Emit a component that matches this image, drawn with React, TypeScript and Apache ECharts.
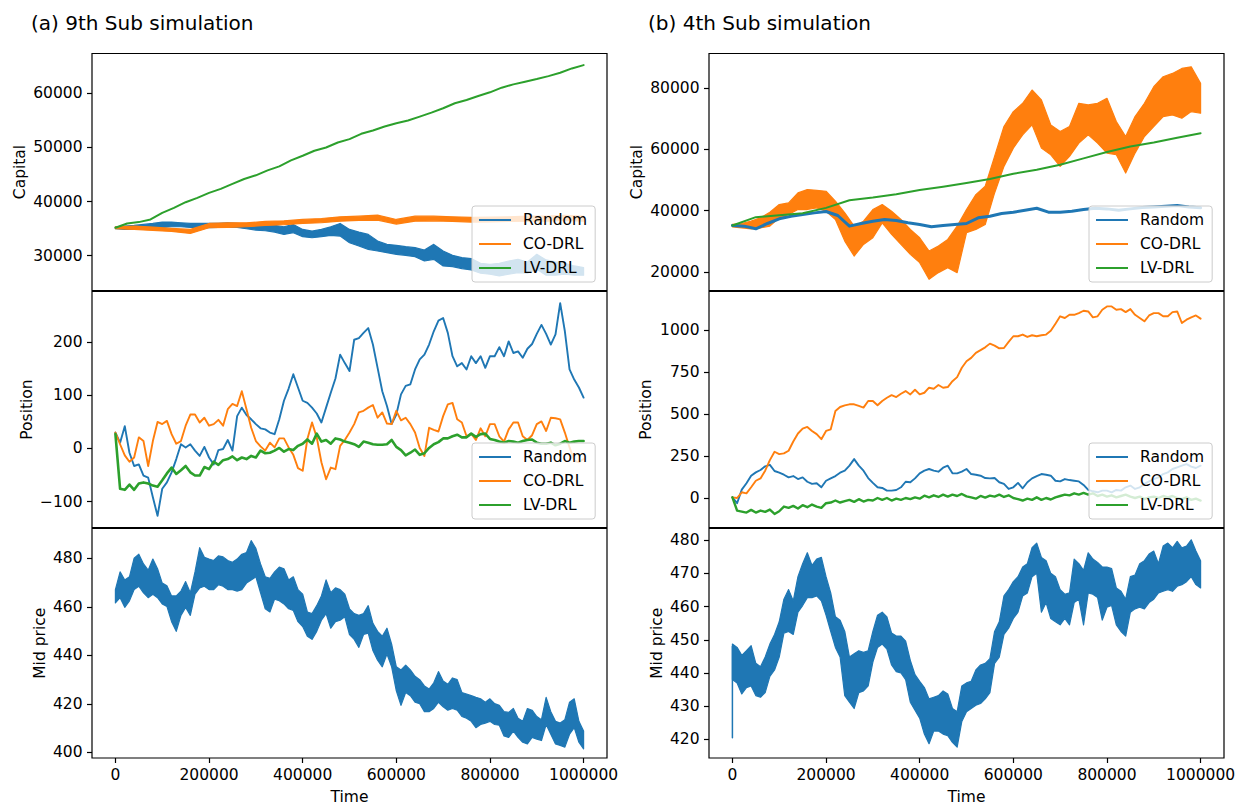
import React, { useEffect, useRef } from "react";
import * as echarts from "echarts";

const BLUE = "#1f77b4";
const ORANGE = "#ff7f0e";
const GREEN = "#2ca02c";
const FONT = "DejaVu Sans";

const LEGEND_NAMES = ["Random", "CO-DRL", "LV-DRL"];
const TITLES = ["(a) 9th Sub simulation", "(b) 4th Sub simulation"];
const X_TICKS = [0, 200000, 400000, 600000, 800000, 1000000];
const A_CAP_TICKS = [30000, 40000, 50000, 60000];
const A_POS_TICKS = [-100, 0, 100, 200];
const A_MID_TICKS = [400, 420, 440, 460, 480];
const B_CAP_TICKS = [20000, 40000, 60000, 80000];
const B_POS_TICKS = [0, 250, 500, 750, 1000];
const B_MID_TICKS = [420, 430, 440, 450, 460, 470, 480];

// ---- (a) Capital ----
const aCapRandStep = 20000;
const aCapRandHi = [35330,35450,35570,35760,35940,36190,36190,36070,35940,35940,35940,35940,36070,35940,35820,35700,35570,35570,35330,35760,34840,34530,34840,35330,35940,34840,34350,33920,32690,32070,31890,31640,31460,31030,32070,30850,30050,29620,29440,28580,28390,28580,29000,29310,28820,30230,29190,28820,28580,28080,27780];
const aCapRandLo = [34960,34840,34840,34960,35020,35210,35330,35330,35210,35210,35150,35210,35270,35210,34960,34710,34590,34350,33920,34220,33490,33300,33490,33730,33610,32380,31770,31150,30850,30540,30230,30050,29800,29000,29310,28080,27960,27590,27350,26730,26550,26240,26550,26860,26730,27470,26360,26360,26550,26360,26360];
const aCapCoStep = 40000;
const aCapCoHi = [35330,35450,35270,35020,34840,35940,36070,36070,36310,36430,36680,36860,37170,37290,37480,36680,37290,37290,37170,37050,37110,37170,37290,37290,37420,37290];
const aCapCoLo = [34960,34840,34650,34470,34100,35150,35210,35330,35570,35700,35940,36070,36370,36500,36560,35820,36370,36430,36310,36190,36250,36310,36370,36370,36500,36370];
const aCapLvStep = 25000;
const aCapLv = [35145,35940,36190,36680,37910,38830,39870,40670,41590,42330,43250,44170,44850,45770,46500,47610,48470,49390,50000,50920,51540,52520,53140,53870,54490,54980,55710,56450,57250,58170,58780,59520,60200,61060,61670,62160,62650,63200,63820,64620,65230];

// ---- (a) Position ----
const aPosStep = 10000;
const aPosRand = [30,11,42,-8,-33,-30,-51,-55,-92,-127,-76,-64,-45,-20,8,2,8,-4,-14,3,-17,-30,-3,-1,16,-4,61,77,63,55,46,38,36,30,27,55,90,113,140,115,90,86,77,66,49,77,105,132,177,161,146,205,208,218,227,196,152,108,80,46,64,102,118,121,149,168,177,196,221,241,246,218,174,155,161,149,174,161,174,152,174,174,191,174,202,180,183,171,188,197,216,233,216,196,215,274,221,149,130,115,96];
const aPosCo = [30,8,-13,-25,-17,21,14,-33,14,50,46,52,27,9,14,43,64,64,49,58,43,46,54,43,74,84,80,108,74,39,14,4,-4,11,2,19,19,2,-12,-37,-42,18,49,21,-26,-58,-36,-39,5,16,30,46,68,71,77,82,58,68,47,46,71,53,58,46,30,1,-14,39,35,32,61,83,86,55,49,23,28,16,38,23,46,46,23,13,36,49,49,23,16,25,46,51,33,58,57,55,30,2,-23,-26,-20];
const aPosLv = [27,-76,-78,-68,-78,-66,-64,-66,-70,-72,-60,-47,-36,-48,-41,-33,-45,-51,-51,-35,-39,-25,-31,-22,-20,-15,-22,-17,-20,-14,-17,-4,-9,-8,-4,1,-6,-1,-3,5,9,17,9,28,13,16,9,19,17,13,11,8,3,13,11,8,7,7,8,16,3,-3,-13,-8,-2,-12,-9,1,8,12,19,19,23,26,21,21,28,22,27,28,18,16,13,11,14,13,11,14,16,17,11,9,9,11,6,9,14,11,13,14,14];

// ---- (a) Mid price ----
const aMidStep = 10000;
const aMidHi = [467.1,474.4,471.1,472.4,480.1,481.7,477.7,475.1,479.7,475.7,469.8,468.7,464.5,464.5,466.5,470.4,465.8,474.4,484.4,480.4,479.7,479.1,481.0,480.6,479.1,478.4,479.7,481.7,482.4,487.3,484.1,477.7,472.4,471.8,474.4,476.4,475.7,471.1,472.4,467.1,465.2,457.9,457.2,460.5,464.5,471.1,465.8,467.8,467.1,465.2,459.2,457.2,456.5,457.2,460.5,453.2,449.9,447.9,451.2,444.6,435.3,434.0,436.0,434.0,431.4,430.0,427.4,426.1,428.7,433.3,429.4,428.1,430.7,430.0,424.7,424.1,423.4,422.7,422.1,420.7,422.1,420.1,419.4,416.8,416.5,418.1,414.1,412.8,418.1,417.4,414.8,413.5,422.7,416.8,412.8,412.1,413.5,420.7,422.1,412.8,408.8];
const aMidLo = [461.6,463.8,459.8,462.5,467.1,468.5,465.8,463.8,465.2,463.8,461.2,460.2,453.9,449.9,456.5,459.8,456.5,465.2,467.8,468.5,467.1,467.1,469.1,468.5,467.1,467.1,466.5,467.1,469.8,471.1,472.4,465.8,459.2,457.9,463.2,462.5,461.2,459.2,458.5,453.9,451.9,447.9,446.6,449.9,454.5,457.2,451.2,453.9,454.5,455.9,448.6,446.6,443.3,448.6,449.2,442.0,438.0,435.3,440.6,435.3,425.4,419.4,424.7,423.4,420.7,420.1,416.8,416.8,418.1,420.7,418.8,417.4,418.1,417.4,414.8,414.1,412.8,410.2,411.5,412.1,412.8,411.5,411.2,406.8,406.2,408.8,406.2,404.2,403.5,406.2,405.5,404.9,411.5,407.5,403.5,402.9,402.2,407.5,410.2,404.2,401.5];

// ---- (b) Capital ----
const bCapRandStep = 25000;
const bCapRand = [35120,34900,34040,35770,37290,38150,38690,39230,39670,38370,34900,35770,36530,37070,36750,35990,35450,34690,35120,35450,35770,37610,38150,39020,39450,40100,40750,39450,39450,39780,40320,40750,40530,40100,40530,40960,41180,41400,41610,41180,40860];
const bCapCoStep = 20000;
const bCapCoHi = [35450,35770,36530,37610,39450,41940,42480,45730,46810,46590,46270,43020,39230,34900,36530,40320,41940,39780,37070,33830,31120,26790,28410,30580,34900,40320,45180,47890,57630,67370,72240,74940,79270,76020,67910,65740,67370,74940,74400,74940,76560,68990,64120,70610,74940,80350,83600,84680,86300,86840,81430];
const bCapCoLo = [34690,34360,34040,34360,34900,37610,38690,40320,40320,40860,39780,37070,30040,25170,28950,31120,35990,32200,28950,25710,23000,17590,19760,21380,19760,32740,33830,35450,45730,54380,60330,64660,67910,60330,58170,54380,57630,61950,64660,61950,58710,58170,52220,58710,64120,67370,70610,71150,70070,72240,71690];
const bCapLvStep = 50000;
const bCapLv = [35120,37830,38480,39130,40860,43340,44210,45290,46700,47780,48970,50270,52000,53300,54920,56980,59040,60870,62170,63690,65200];

// ---- (b) Position ----
const bPosStep = 10000;
const bPosRand = [4,-31,50,88,133,153,167,189,198,161,151,139,123,131,113,123,97,84,88,64,103,117,131,151,163,193,232,193,163,119,90,64,60,44,44,48,64,97,94,117,147,163,173,163,157,181,193,147,147,157,173,143,139,133,119,117,119,94,84,54,64,90,58,94,117,131,143,139,133,103,99,113,107,103,99,78,48,40,34,44,44,34,48,44,64,74,54,64,84,99,113,123,143,153,173,183,193,202,187,179,193];
const bPosCo = [4,0,34,28,64,103,117,163,226,276,262,266,282,337,385,414,424,400,381,351,400,410,519,543,553,559,559,549,539,579,579,553,579,598,614,602,622,638,618,646,618,628,658,652,674,658,662,697,721,777,816,836,866,882,899,921,909,893,895,931,965,965,975,961,971,965,971,975,998,1040,1084,1074,1093,1093,1103,1117,1113,1078,1084,1123,1143,1143,1123,1127,1109,1127,1093,1074,1054,1089,1103,1103,1084,1084,1109,1113,1044,1064,1078,1089,1070];
const bPosLv = [4,-75,-81,-87,-71,-87,-75,-83,-69,-95,-79,-51,-59,-47,-63,-43,-55,-39,-51,-59,-31,-27,-15,-27,-19,-11,-23,-7,-21,-11,-15,0,-11,0,-15,-4,-11,0,-7,4,-4,14,4,16,6,20,8,20,12,24,10,4,-4,12,2,14,8,20,6,16,0,-7,-15,-4,-11,4,-11,0,-9,4,12,20,16,28,20,30,20,28,12,20,8,16,4,12,20,8,0,8,-7,4,8,0,12,4,12,0,-7,4,-11,-4,-15];

// ---- (b) Mid price ----
const bMidStart = [420.5, 448.0];
const bMidStep = 10000;
const bMidHi = [448.7,447.7,445.3,446.7,448.2,442.9,441.9,444.8,448.7,451.6,455.4,462.2,465.1,461.7,469.0,472.9,476.2,472.4,474.3,474.8,469.0,464.1,456.9,455.9,452.5,444.8,445.8,446.7,446.2,446.7,452.5,457.4,458.3,456.9,452.0,451.1,451.1,449.6,443.8,439.5,437.5,435.6,432.2,432.7,433.2,434.6,433.7,429.3,428.3,436.1,437.0,437.5,440.9,442.4,442.9,444.3,452.5,455.4,463.2,465.1,467.5,469.0,471.9,472.9,477.7,479.1,474.8,473.8,470.0,469.0,465.1,463.7,464.1,474.3,472.9,470.9,476.2,474.3,473.3,471.9,471.9,471.4,465.6,464.6,462.2,469.0,469.5,472.9,473.8,475.8,476.7,472.9,478.2,479.1,477.7,479.6,477.7,478.2,480.1,476.7,473.8];
const bMidLo = [438.0,437.0,433.7,435.6,436.1,433.2,432.7,434.1,439.0,440.9,444.8,452.0,452.5,451.6,458.3,460.3,462.7,462.7,463.2,461.7,457.4,452.5,447.7,444.8,433.2,431.2,429.3,434.1,434.6,436.1,443.3,447.7,448.7,447.2,442.4,440.4,440.0,438.0,431.2,428.8,426.4,421.6,418.7,422.5,422.5,421.6,421.1,419.1,417.7,425.4,428.3,429.3,430.3,430.8,432.2,434.1,442.9,444.8,451.6,453.5,456.4,458.3,463.2,464.1,469.0,470.0,458.3,461.2,456.4,455.4,454.5,456.4,454.5,461.2,462.2,454.5,464.1,463.7,462.7,455.9,459.8,460.3,454.5,452.5,451.1,458.3,459.3,459.8,459.3,461.2,462.2,464.1,464.6,465.1,464.6,466.1,466.6,467.5,469.0,466.6,465.6];

const LEFT_X = [92, 709];
const PLOT_W = 515;
const ROWS = [
  { top: 53.5, height: 237 },
  { top: 291.5, height: 236 },
  { top: 528.5, height: 237 },
];

const pairs = (vals: number[], step: number) => vals.map((v, i) => [i * step, v]);

function lineSeries(name: string, vals: number[], step: number, color: string, gi: number, width: number) {
  return {
    type: "line",
    name,
    xAxisIndex: gi,
    yAxisIndex: gi,
    data: pairs(vals, step),
    symbol: "none",
    showSymbol: false,
    silent: true,
    clip: true,
    lineStyle: { color, width, join: "round", cap: "round" },
    itemStyle: { color },
  };
}

function bandSeries(name: string, hi: number[], lo: number[], step: number, color: string, gi: number) {
  return {
    type: "custom",
    name,
    xAxisIndex: gi,
    yAxisIndex: gi,
    silent: true,
    clip: true,
    data: [[0, lo[0]]],
    renderItem: (_params: any, api: any) => {
      const pts: number[][] = [];
      for (let i = 0; i < hi.length; i++) pts.push(api.coord([i * step, hi[i]]));
      for (let i = lo.length - 1; i >= 0; i--) pts.push(api.coord([i * step, lo[i]]));
      return {
        type: "polygon",
        shape: { points: pts },
        style: { fill: color, stroke: color, lineWidth: 1.2, lineJoin: "round" },
      };
    },
  };
}

const minus = (v: number) => String(v).replace("-", "\u2212");
const plain = (v: number) => String(v);

export default function App() {
  const ref = useRef<HTMLDivElement>(null);

  useEffect(() => {
    if (!ref.current) return;
    const chart = echarts.init(ref.current, undefined, { renderer: "svg" });

    const grids: any[] = [];
    LEFT_X.forEach((left) => {
      ROWS.forEach((r) => {
        grids.push({
          left,
          top: r.top,
          width: PLOT_W,
          height: r.height,
          show: true,
          borderColor: "#000",
          borderWidth: 1.2,
          backgroundColor: "transparent",
          containLabel: false,
        });
      });
    });

    const yDefs = [
      { min: 23540, max: 67380, ticks: A_CAP_TICKS, name: "Capital", gap: 64 },
      { min: -149, max: 296, ticks: A_POS_TICKS, name: "Position", gap: 57 },
      { min: 397.7, max: 492.3, ticks: A_MID_TICKS, name: "Mid price", gap: 44 },
      { min: 13930, max: 91170, ticks: B_CAP_TICKS, name: "Capital", gap: 64 },
      { min: -176, max: 1232, ticks: B_POS_TICKS, name: "Position", gap: 55 },
      { min: 414.4, max: 483.5, ticks: B_MID_TICKS, name: "Mid price", gap: 44 },
    ];

    const textBase = { fontFamily: FONT, fontSize: 15.5, color: "#000" };

    const xAxes = yDefs.map((_, i) => {
      const bottom = i % 3 === 2;
      return {
        gridIndex: i,
        type: "value",
        min: -50000,
        max: 1050000,
        show: bottom,
        axisLine: { show: false, onZero: false },
        splitLine: { show: false },
        axisTick: { show: bottom, length: 5, lineStyle: { color: "#000", width: 1.2 }, customValues: X_TICKS },
        axisLabel: { show: bottom, customValues: X_TICKS, margin: 9, formatter: plain, ...textBase },
        name: bottom ? "Time" : "",
        nameLocation: "middle",
        nameGap: 31,
        nameTextStyle: { ...textBase },
      };
    });

    const yAxes = yDefs.map((d, i) => ({
      gridIndex: i,
      type: "value",
      min: d.min,
      max: d.max,
      axisLine: { show: false, onZero: false },
      splitLine: { show: false },
      axisTick: { show: true, length: 5, lineStyle: { color: "#000", width: 1.2 }, customValues: d.ticks },
      axisLabel: { customValues: d.ticks, margin: 9.5, formatter: minus, ...textBase },
      name: d.name,
      nameLocation: "middle",
      nameRotate: 90,
      nameGap: d.gap,
      nameTextStyle: { ...textBase },
    }));

    const series: any[] = [
      // (a) capital
      bandSeries("aCapRand", aCapRandHi, aCapRandLo, aCapRandStep, BLUE, 0),
      bandSeries("aCapCo", aCapCoHi, aCapCoLo, aCapCoStep, ORANGE, 0),
      lineSeries("aCapLv", aCapLv, aCapLvStep, GREEN, 0, 2),
      // (a) position
      lineSeries("Random", aPosRand, aPosStep, BLUE, 1, 1.9),
      lineSeries("CO-DRL", aPosCo, aPosStep, ORANGE, 1, 1.9),
      lineSeries("LV-DRL", aPosLv, aPosStep, GREEN, 1, 2.6),
      // (a) mid price
      bandSeries("aMid", aMidHi, aMidLo, aMidStep, BLUE, 2),
      // (b) capital
      lineSeries("bCapRand", bCapRand, bCapRandStep, BLUE, 3, 3),
      bandSeries("bCapCo", bCapCoHi, bCapCoLo, bCapCoStep, ORANGE, 3),
      lineSeries("bCapLv", bCapLv, bCapLvStep, GREEN, 3, 2),
      // (b) position
      lineSeries("bPosRand", bPosRand, bPosStep, BLUE, 4, 1.9),
      lineSeries("bPosCo", bPosCo, bPosStep, ORANGE, 4, 1.9),
      lineSeries("bPosLv", bPosLv, bPosStep, GREEN, 4, 2.4),
      // (b) mid price
      lineSeries("bMidStart", bMidStart, 0, BLUE, 5, 1.5),
      bandSeries("bMid", bMidHi, bMidLo, bMidStep, BLUE, 5),
    ];

    const legendColors: Record<string, string> = { Random: BLUE, "CO-DRL": ORANGE, "LV-DRL": GREEN };
    const mkLegend = (left: number, top: number) => ({
      left,
      top,
      orient: "vertical",
      icon: "rect",
      itemWidth: 32,
      itemHeight: 2,
      itemGap: 6,
      padding: [5, 8, 5, 7],
      backgroundColor: "rgba(255,255,255,0.8)",
      borderColor: "#cccccc",
      borderWidth: 1,
      borderRadius: 3,
      selectedMode: false,
      textStyle: { ...textBase, lineHeight: 18, padding: [0, 0, 0, 7] },
      data: LEGEND_NAMES.map((n) => ({ name: n, itemStyle: { color: legendColors[n] } })),
    });

    chart.setOption({
      animation: false,
      backgroundColor: "#fff",
      textStyle: { fontFamily: FONT },
      grid: grids,
      xAxis: xAxes,
      yAxis: yAxes,
      legend: [mkLegend(472, 206), mkLegend(472, 443), mkLegend(1089, 206), mkLegend(1089, 443)],
      graphic: [
        { type: "text", left: 31, top: 13, style: { text: TITLES[0], font: `20px "${FONT}"`, fill: "#000" } },
        { type: "text", left: 648, top: 13, style: { text: TITLES[1], font: `20px "${FONT}"`, fill: "#000" } },
      ],
      series,
    });

    return () => chart.dispose();
  }, []);

  return (
    <div
      ref={ref}
      style={{ position: "absolute", left: 0, top: 0, width: 1244, height: 806, background: "#fff" }}
    />
  );
}
